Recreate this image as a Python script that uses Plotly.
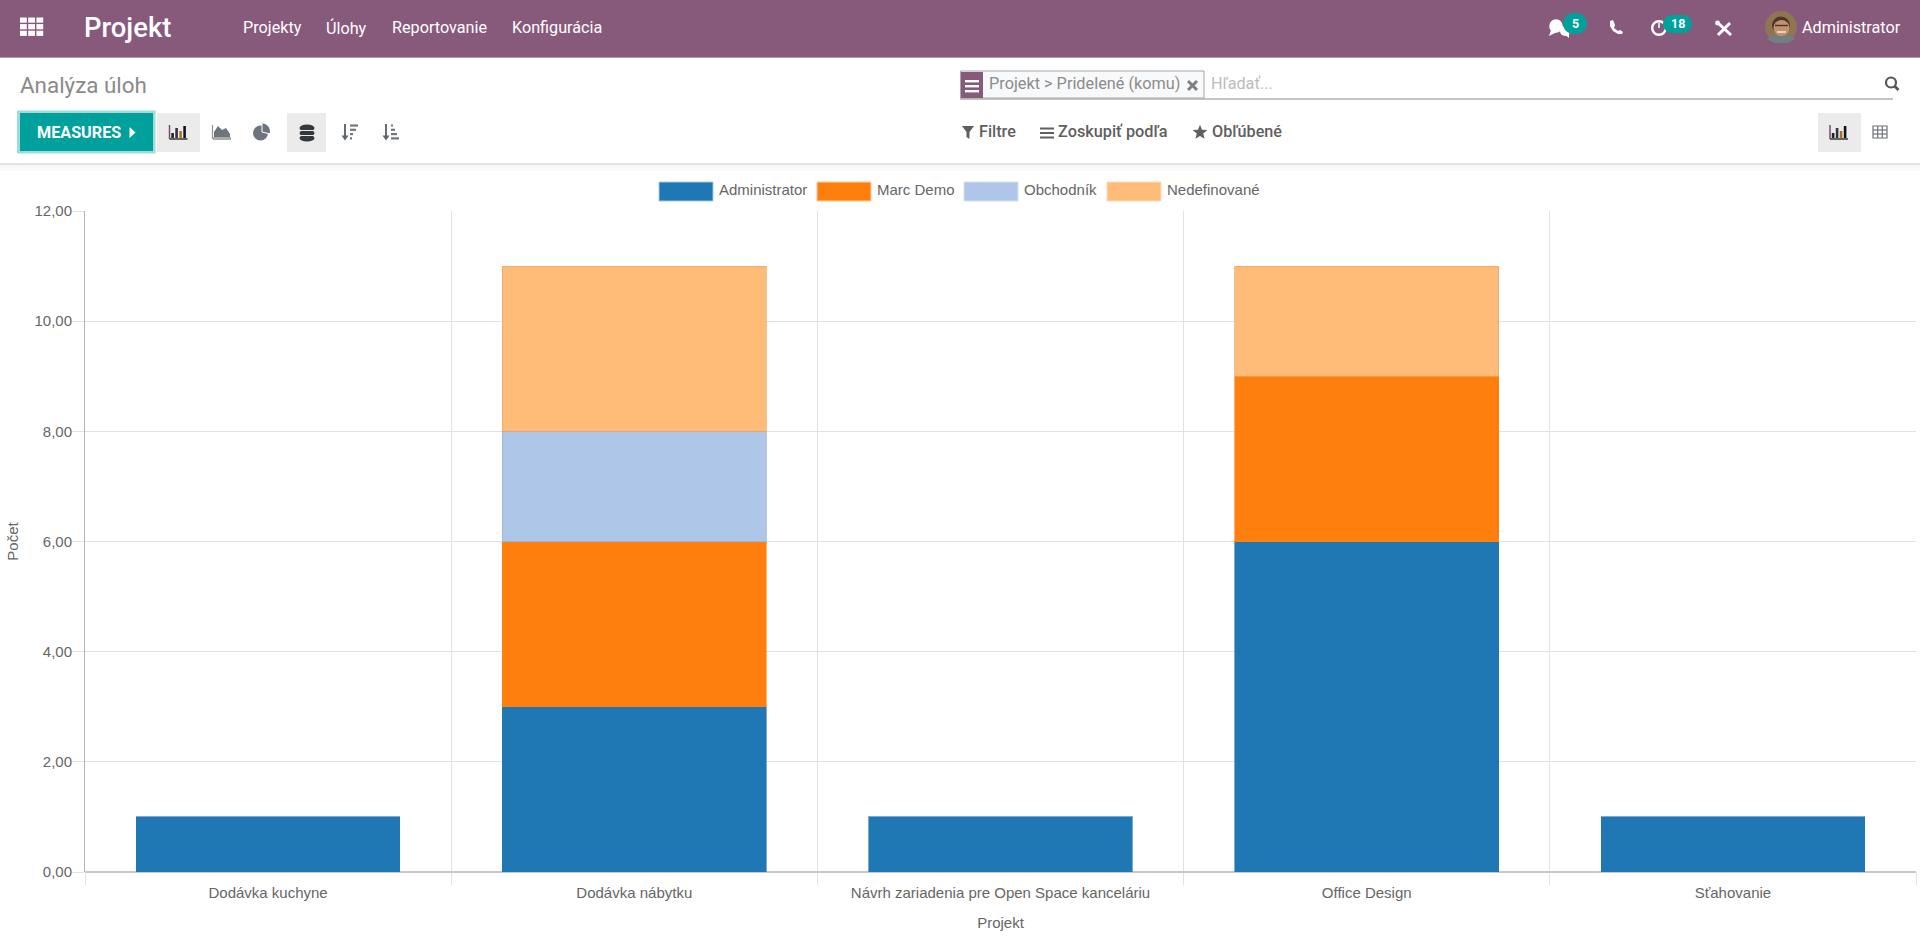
import math
import plotly.graph_objects as go

categories = ["Dodávka kuchyne", "Dodávka nábytku", "Návrh zariadenia pre Open Space kanceláriu", "Office Design", "Sťahovanie"]
administrator = [1, 3, 1, 6, 1]
marc_demo = [None, 3, None, 3, None]
obchodnik = [None, 2, None, None, None]
nedefinovane = [None, 3, None, 2, None]
series_names = ["Administrator", "Marc Demo", "Obchodník", "Nedefinované"]
series_colors = ["#1f77b4", "#ff7f0e", "#aec7e8", "#ffbb78"]
series_edges = ["rgba(31,119,180,0.6)", "rgba(255,127,14,0.6)", "rgba(150,175,215,0.7)", "rgba(235,165,100,0.7)"]
legend_edges = ["#a5c9e1", "#ffcc9f", "#d3e0f2", "#ffdcb9"]
series_values = [administrator, marc_demo, obchodnik, nedefinovane]
y_ticks = [0, 2, 4, 6, 8, 10, 12]

W, H = 1920, 937
ML, MR, MT, MB = 85, 4, 211, 65
PW, PH = W - ML - MR, H - MT - MB
FONT = "Roboto"
CHART_FONT = "Liberation Sans"
CHART_SIZE = 15
UI = 16.2

def X(x):
    return (x - ML) / PW

def Y(y):
    return (H - MB - y) / PH

shapes, notes = [], []

def rect(x0, y0, x1, y1, fill, line=None, lw=0):
    shapes.append(dict(type="rect", xref="paper", yref="paper", x0=X(x0), x1=X(x1), y0=Y(y0), y1=Y(y1),
                       fillcolor=fill, line=dict(color=line or fill, width=lw), layer="above"))

def rrect(x0, y0, x1, y1, r, fill):
    n = 6
    pts = []
    for cx, cy, a0 in [(x1 - r, y0 + r, -90), (x1 - r, y1 - r, 0), (x0 + r, y1 - r, 90), (x0 + r, y0 + r, 180)]:
        for i in range(n + 1):
            a = math.radians(a0 + 90 * i / n)
            pts.append((cx + r * math.cos(a), cy + r * math.sin(a)))
    poly(pts, fill)

def circle(cx, cy, r, fill, line=None, lw=0):
    shapes.append(dict(type="circle", xref="paper", yref="paper", x0=X(cx - r), x1=X(cx + r), y0=Y(cy - r), y1=Y(cy + r),
                       fillcolor=fill, line=dict(color=line or fill, width=lw), layer="above"))

def poly(pts, fill):
    d = "M" + "L".join(f"{X(a):.6f},{Y(b):.6f}" for a, b in pts) + "Z"
    shapes.append(dict(type="path", xref="paper", yref="paper", path=d, fillcolor=fill,
                       line=dict(width=0), layer="above"))

def seg(x0, y0, x1, y1, color, lw=1):
    shapes.append(dict(type="line", xref="paper", yref="paper", x0=X(x0), x1=X(x1), y0=Y(y0), y1=Y(y1),
                       line=dict(color=color, width=lw), layer="above"))

def text(x, y, s, size, color, weight=400, anchor="left", family=FONT):
    notes.append(dict(xref="paper", yref="paper", x=X(x), y=Y(y), text=s, showarrow=False, xanchor=anchor,
                      yanchor="middle", borderpad=0, borderwidth=0,
                      font=dict(family=family, size=size, color=color, weight=weight)))

def bars_icon(x, y):
    seg(x, y, x, y + 14, "#7a4a70", 1.5)
    seg(x, y + 14, x + 18, y + 14, "#555", 1.8)
    for dx, top, c in [(3, 8, "#223"), (7, 3, "#334"), (11, 6, "#a5761f"), (15, 1, "#112")]:
        rect(x + dx - 1.2, y + top, x + dx + 1.4, y + 13, c)

# page bands
rect(0, 0, W, 57, "#875A7B")
rect(0, 57, W, 58, "#b39aac")
rect(0, 163, W, 165.5, "#e2e2e2")
rect(0, 165.5, W, 171, "#f9f9f9")

# navbar
for i in range(3):
    for j in range(3):
        rect(20 + 8.2 * i, 17.5 + 6.6 * j, 26.8 + 8.2 * i, 22.7 + 6.6 * j, "#ffffff")
text(84, 28, "Projekt", 27.4, "#ffffff", 500)
for x, s in [(243, "Projekty"), (326, "Úlohy"), (392, "Reportovanie"), (512, "Konfigurácia")]:
    text(x, 28, s, UI, "#ffffff")

# navbar right
circle(1556, 26, 6.8, "#ffffff")
poly([(1551, 30), (1549, 36), (1557, 32)], "#ffffff")
circle(1565, 31, 5, "#ffffff")
poly([(1564, 34), (1569, 38), (1569, 31)], "#ffffff")
rrect(1563, 13, 1587, 34, 10.5, "#00A09D")
text(1575, 24, "5", 12.5, "#ffffff", 700, "center")
poly([(1610, 21), (1613, 20), (1615, 25), (1614, 28), (1618, 31), (1620, 30), (1623, 32), (1622, 34),
      (1618, 34), (1613, 31), (1610, 26)], "#ffffff")
circle(1659, 28, 6.8, "rgba(0,0,0,0)", "#ffffff", 2.4)
seg(1659, 23, 1659, 28, "#ffffff", 1.5)
rrect(1663, 15, 1692, 33, 9, "#00A09D")
text(1677.5, 24, "18", 12.5, "#ffffff", 700, "center")
seg(1718, 35, 1730, 23, "#ffffff", 3)
seg(1718, 23, 1731, 35, "#ffffff", 3)
circle(1717.5, 23, 2.4, "#ffffff")
# avatar
circle(1781, 27, 16, "#8f7550")
poly([(1767, 39), (1772, 35), (1790, 35), (1795, 39), (1788, 43), (1774, 43)], "#6f7f82")
circle(1781, 25.5, 9, "#4b3526")
circle(1781.5, 28, 8, "#c2906f")
seg(1775, 25.5, 1788, 25.5, "#38312c", 1.3)
seg(1777, 32, 1786, 32, "#efe4da", 1.6)
text(1802, 28, "Administrator", UI, "#ffffff")

# control panel
text(20, 85.5, "Analýza úloh", 22.4, "#8a8a8a")
rect(17, 110.5, 155.5, 153.5, "#9edcd8")
rect(20, 113, 153, 151, "#00A09D")
text(37, 132.5, "MEASURES", UI, "#ffffff", 700)
poly([(129.5, 127), (135.5, 132.5), (129.5, 138)], "#ffffff")
rect(157, 113, 200, 152, "#ebebeb")
bars_icon(169.5, 125)
seg(212.5, 125, 212.5, 139, "#9d8a9a", 1.2)
poly([(214, 138), (214, 132), (218, 126), (222, 130), (226, 128), (230, 134), (230, 138)], "#6c757d")
rect(213, 137, 231, 140, "#aaaaaa")
circle(260.5, 133, 7.5, "#6c757d")
poly([(262, 124.5)] + [(262 + 8 * math.cos(math.radians(a)), 131.5 + 8 * math.sin(math.radians(a))) for a in range(-90, 20, 15)] + [(262, 131.5)], "#6c757d")
seg(262, 124, 262, 132, "#ffffff", 1)
seg(262, 132, 270, 134, "#ffffff", 1)
rect(287, 113, 326, 152, "#ebebeb")
for cy in [128, 133, 138]:
    circle(307, cy, 6, "#33383c")
    shapes[-1].update(x0=X(299.5), x1=X(314.5), y0=Y(cy - 3.6), y1=Y(cy + 3.6))
seg(300, 130.5, 314, 130.5, "#ebebeb", 1)
seg(300, 135.5, 314, 135.5, "#ebebeb", 1)
for ox, rows in [(345, [(350, 358), (350, 356), (350, 353), (350, 352)]), (386, [(391, 393), (391, 395), (391, 397), (391, 399)])]:
    seg(ox, 124, ox, 139, "#5f666c", 1.9)
    poly([(ox - 3.5, 135.5), (ox + 3.5, 135.5), (ox, 140.5)], "#5f666c")
    for k, (a, b) in enumerate(rows):
        seg(a, 125.5 + 4.3 * k, b, 125.5 + 4.3 * k, "#71787e", 2.2)

# search bar
rect(960, 98, 1893, 100, "#c4c4c4")
rect(960.5, 71, 1204, 98, "#f7f9fa", "#a6a6a6", 1)
rect(961, 72, 983, 98, "#875A7B")
for yy in [80, 85, 90]:
    rect(965, yy, 979, yy + 2.4, "#ffffff")
text(989, 84, "Projekt > Pridelené (komu)", 16.3, "#8c8c8c")
seg(1188, 81, 1197, 90, "#808080", 3)
seg(1197, 81, 1188, 90, "#808080", 3)
text(1211, 84, "Hľadať...", UI, "#bcbcbc")
circle(1891, 82.5, 5, "rgba(0,0,0,0)", "#555", 2.2)
seg(1894.5, 86, 1898.5, 90, "#555", 2.6)

# filter menu
DG = "#5f5f5f"
poly([(962, 126), (974, 126), (969.5, 132), (969.5, 139), (966.5, 137), (966.5, 132)], DG)
text(979, 132, "Filtre", UI, DG, 500)
for yy in [127.5, 132, 136.5]:
    rect(1040, yy, 1054, yy + 2, DG)
text(1058, 132, "Zoskupiť podľa", 16.3, DG, 500)
star = []
for k in range(10):
    r = 7.8 if k % 2 == 0 else 3.4
    a = math.radians(-90 + 36 * k)
    star.append((1200 + r * math.cos(a), 132.5 + r * math.sin(a)))
poly(star, DG)
text(1212, 132, "Obľúbené", UI, DG, 500)

# view switcher
rect(1818, 113, 1861, 152, "#ebebeb")
bars_icon(1830, 125)
rect(1873, 126, 1887, 138, "rgba(0,0,0,0)", "#6f747a", 1.2)
for xx in [1877.7, 1882.3]:
    seg(xx, 126, xx, 138, "#6f747a", 1.2)
for yy in [130, 134]:
    seg(1873, yy, 1887, yy, "#6f747a", 1.2)

# legend
legend_swatches = [(659, 719), (817, 877), (964, 1024), (1107, 1167)]
for (x0, tx), name, col, edge in zip(legend_swatches, series_names, series_colors, legend_edges):
    rect(x0, 182, x0 + 54, 201, col, edge, 1)
    text(tx, 190, name, CHART_SIZE, "#666666", family=CHART_FONT)

fig = go.Figure()
for name, vals, col, edge in zip(series_names, series_values, series_colors, series_edges):
    fig.add_trace(go.Bar(name=name, x=categories, y=vals, marker=dict(color=col, line=dict(color=edge, width=1))))

grid = "#e2e2e2"
fig.update_layout(
    width=W, height=H, autosize=False, barmode="stack", bargap=0.28, showlegend=False,
    margin=dict(l=ML, r=MR, t=MT, b=MB, pad=0), separators=", ",
    paper_bgcolor="#ffffff", plot_bgcolor="#ffffff",
    font=dict(family=CHART_FONT, size=CHART_SIZE, color="#666666"),
    shapes=shapes, annotations=notes,
    xaxis=dict(type="category", tickson="boundaries", showgrid=True, gridcolor=grid, gridwidth=1,
               ticks="outside", ticklen=12, tickcolor=grid, tickwidth=1, showline=False, zeroline=False,
               ticklabelstandoff=10,
               title=dict(text="Projekt", standoff=17, font=dict(size=CHART_SIZE, color="#666666"))),
    yaxis=dict(range=[0, 12], tickvals=y_ticks, tickformat=".2f", showgrid=True, gridcolor=grid, gridwidth=1,
               ticks="outside", ticklen=12, tickcolor=grid, tickwidth=1, showline=True, linecolor="#b4b4b4", linewidth=1,
               zeroline=True, zerolinecolor="#c8c8c8", zerolinewidth=2, ticklabelstandoff=-3,
               title=dict(text="Počet", standoff=12, font=dict(size=CHART_SIZE, color="#666666"))),
)
fig.write_html("out.html", config=dict(displayModeBar=False),
               post_script="document.body.style.margin='0';document.documentElement.style.overflow='hidden';")
